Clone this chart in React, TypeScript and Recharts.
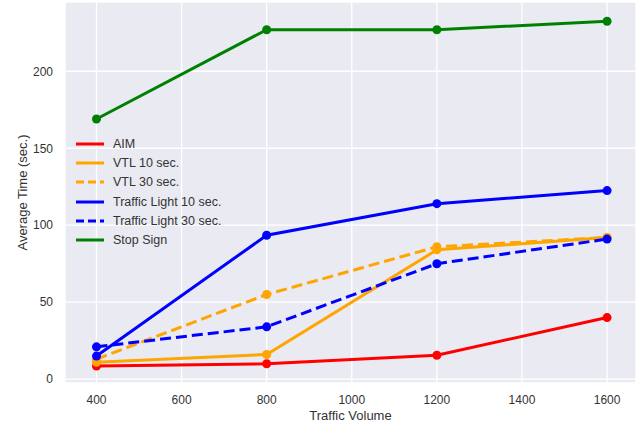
import React from 'react';
import { LineChart, Line, XAxis, YAxis, CartesianGrid } from 'recharts';

const volumes = [400, 800, 1200, 1600];
const aim = [8.5, 10, 15.5, 40];
const vtl10 = [11, 16, 84, 92];
const vtl30 = [13, 55, 86, 92];
const tl10 = [15, 93.5, 114, 122.5];
const tl30 = [21, 34, 75, 91];
const stopSign = [169, 227, 227, 232.5];
const xTicks = [400, 600, 800, 1000, 1200, 1400, 1600];
const yTicks = [0, 50, 100, 150, 200];

const data = volumes.map((v, i) => ({
  v,
  aim: aim[i],
  vtl10: vtl10[i],
  vtl30: vtl30[i],
  tl10: tl10[i],
  tl30: tl30[i],
  stop: stopSign[i],
}));

const series = [
  { key: 'aim', name: 'AIM', color: '#FF0000', dash: undefined as string | undefined },
  { key: 'vtl10', name: 'VTL 10 sec.', color: '#FFA500', dash: undefined },
  { key: 'vtl30', name: 'VTL 30 sec.', color: '#FFA500', dash: '11 5' },
  { key: 'tl10', name: 'Traffic Light 10 sec.', color: '#0000FF', dash: undefined },
  { key: 'tl30', name: 'Traffic Light 30 sec.', color: '#0000FF', dash: '11 5' },
  { key: 'stop', name: 'Stop Sign', color: '#008000', dash: undefined },
];

const FONT = '"Liberation Sans", Arial, sans-serif';
const TEXT = '#333333';

const LegendBox = () => (
  <div style={{ position: 'absolute', left: 74, top: 134, fontFamily: FONT, fontSize: 12.5, color: TEXT, pointerEvents: 'none' }}>
    {series.map((s) => (
      <div key={s.key} style={{ display: 'flex', alignItems: 'center', height: 19.3, whiteSpace: 'nowrap' }}>
        <svg width={31} height={8} style={{ marginRight: 8 }}>
          <line x1={2} y1={4} x2={30} y2={4} stroke={s.color} strokeWidth={3} strokeDasharray={s.dash ? '8 4' : undefined} />
        </svg>
        <span>{s.name}</span>
      </div>
    ))}
  </div>
);

export default function App() {
  return (
    <div style={{ position: 'absolute', left: 0, top: 0, width: 642, height: 432 }}>
      <LineChart width={642} height={432} data={data} margin={{ top: 2, right: 6, left: 0, bottom: 0 }}>
        <CartesianGrid fill="#EAEAF2" stroke="#FFFFFF" strokeWidth={1.3} />
        <XAxis
          dataKey="v"
          type="number"
          domain={[326, 1668]}
          ticks={xTicks}
          allowDataOverflow
          axisLine={false}
          tickLine={false}
          height={49}
          tick={{ fontSize: 12, fill: TEXT, fontFamily: FONT }}
          tickMargin={6}
          label={{ value: 'Traffic Volume', position: 'center', dy: 8, fontSize: 13, fill: TEXT, fontFamily: FONT }}
        />
        <YAxis
          type="number"
          domain={[-2.5, 245]}
          ticks={yTicks}
          allowDataOverflow
          axisLine={false}
          tickLine={false}
          width={65}
          tick={{ fontSize: 12, fill: TEXT, fontFamily: FONT }}
          tickMargin={6}
          label={{ value: 'Average Time (sec.)', angle: -90, position: 'center', dx: -10, fontSize: 13, fill: TEXT, fontFamily: FONT }}
        />
        {series.map((s) => (
          <Line
            key={s.key}
            dataKey={s.key}
            name={s.name}
            stroke={s.color}
            strokeWidth={3}
            strokeDasharray={s.dash}
            dot={{ r: 4.5, fill: s.color, stroke: s.color, strokeWidth: 0 }}
            activeDot={false}
            isAnimationActive={false}
            type="linear"
          />
        ))}
      </LineChart>
      <LegendBox />
    </div>
  );
}
